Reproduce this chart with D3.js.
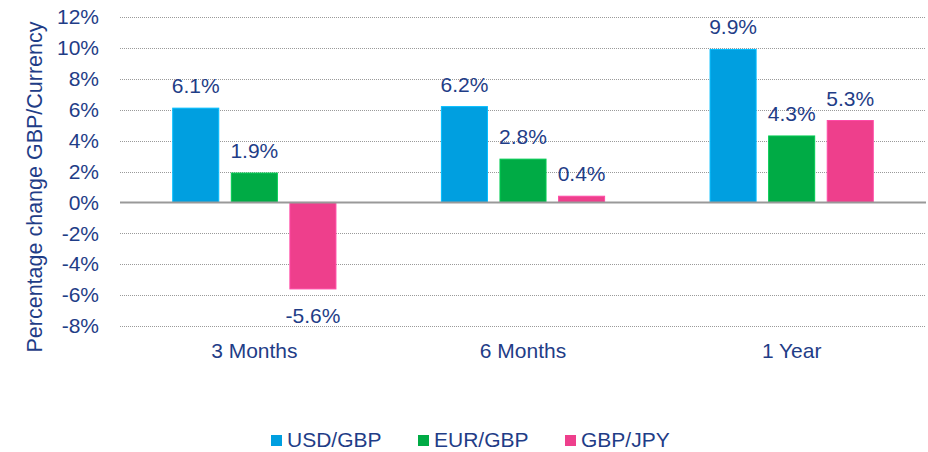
<!DOCTYPE html>
<html>
<head>
<meta charset="utf-8">
<script src="https://cdn.jsdelivr.net/npm/d3@7"></script>
<style>
  html, body { margin: 0; padding: 0; background: #fff; }
  svg { display: block; font-family: "Liberation Sans", Arial, sans-serif; }
</style>
</head>
<body>
<div id="chart"></div>
<script>
// ===== DATA =====
const categories = ["3 Months", "6 Months", "1 Year"];
const seriesNames = ["USD/GBP", "EUR/GBP", "GBP/JPY"];
const usdGbp = [6.1, 6.2, 9.9];
const eurGbp = [1.9, 2.8, 4.3];
const gbpJpy = [-5.6, 0.4, 5.3];
const yTicks = [-8, -6, -4, -2, 0, 2, 4, 6, 8, 10, 12];
const yLabel = "Percentage change GBP/Currency";

const colors = ["#009fe0", "#00ab45", "#ee3f8c"];
const textColor = "#1f3d87";

// ===== LAYOUT =====
const width = 928, height = 452;
const plot = { left: 120, right: 926, top: 17, bottom: 326 };

const svg = d3.select("#chart").append("svg")
  .attr("width", width)
  .attr("height", height);

const x0 = d3.scaleBand()
  .domain(categories)
  .range([plot.left, plot.right])
  .paddingInner(0).paddingOuter(0);

const x1 = d3.scaleBand()
  .domain(seriesNames)
  .range([0, x0.bandwidth()])
  .paddingInner(0.214)
  .paddingOuter(0.9);

const y = d3.scaleLinear()
  .domain([-8, 12])
  .range([plot.bottom, plot.top]);

// rows para dibujar
const seriesVals = [usdGbp, eurGbp, gbpJpy];
const rows = [];
categories.forEach((c, i) => {
  seriesNames.forEach((s, j) => {
    rows.push({ cat: c, series: s, value: seriesVals[j][i], color: colors[j] });
  });
});

// gridlines (punteadas)
svg.append("g")
  .selectAll("line")
  .data(yTicks.filter(t => t !== 0))
  .join("line")
  .attr("x1", plot.left).attr("x2", plot.right)
  .attr("y1", d => Math.round(y(d)) + 0.5)
  .attr("y2", d => Math.round(y(d)) + 0.5)
  .attr("stroke", "#9a9a9a")
  .attr("stroke-width", 1)
  .attr("stroke-dasharray", "1,1");

// tick labels
const yAxis = d3.axisLeft(y)
  .tickValues(yTicks)
  .tickFormat(d => d + "%")
  .tickSize(0)
  .tickPadding(0);

const gy = svg.append("g")
  .attr("transform", "translate(99,0)")
  .call(yAxis);
gy.select(".domain").remove();
gy.selectAll("text")
  .attr("fill", textColor)
  .attr("font-size", 21)
  .attr("font-family", "Liberation Sans, Arial, sans-serif");

// bars
svg.append("g")
  .selectAll("rect")
  .data(rows)
  .join("rect")
  .attr("x", d => x0(d.cat) + x1(d.series))
  .attr("width", x1.bandwidth())
  .attr("y", d => y(Math.max(0, d.value)))
  .attr("height", d => Math.abs(y(d.value) - y(0)))
  .attr("fill", d => d.color)
  .attr("stroke", d => d3.color(d.color).brighter(0.5))
  .attr("stroke-width", 1);

// línea de cero
svg.append("line")
  .attr("x1", plot.left).attr("x2", plot.right)
  .attr("y1", y(0)).attr("y2", y(0))
  .attr("stroke", "#999")
  .attr("stroke-width", 2);

// data labels
svg.append("g")
  .selectAll("text")
  .data(rows)
  .join("text")
  .attr("x", d => x0(d.cat) + x1(d.series) + x1.bandwidth() / 2)
  .attr("y", d => d.value >= 0 ? y(d.value) - 15 : y(d.value) + 34)
  .attr("text-anchor", "middle")
  .attr("fill", textColor)
  .attr("font-size", 21)
  .text(d => d.value.toFixed(1) + "%");

// category labels
svg.append("g")
  .selectAll("text")
  .data(categories)
  .join("text")
  .attr("x", d => x0(d) + x0.bandwidth() / 2)
  .attr("y", 358)
  .attr("text-anchor", "middle")
  .attr("fill", textColor)
  .attr("font-size", 21)
  .text(d => d);

// y axis title
svg.append("text")
  .attr("transform", "translate(42,187) rotate(-90)")
  .attr("text-anchor", "middle")
  .attr("fill", textColor)
  .attr("font-size", 21.5)
  .text(yLabel);

// legend
const legendX = [271, 418, 565];
const legend = svg.append("g")
  .selectAll("g")
  .data(seriesNames)
  .join("g")
  .attr("transform", (d, i) => `translate(${legendX[i]},435)`);

legend.append("rect")
  .attr("width", 11).attr("height", 11)
  .attr("fill", (d, i) => colors[i]);

legend.append("text")
  .attr("x", 16)
  .attr("y", 12)
  .attr("fill", textColor)
  .attr("font-size", 21)
  .text(d => d);
</script>
</body>
</html>
